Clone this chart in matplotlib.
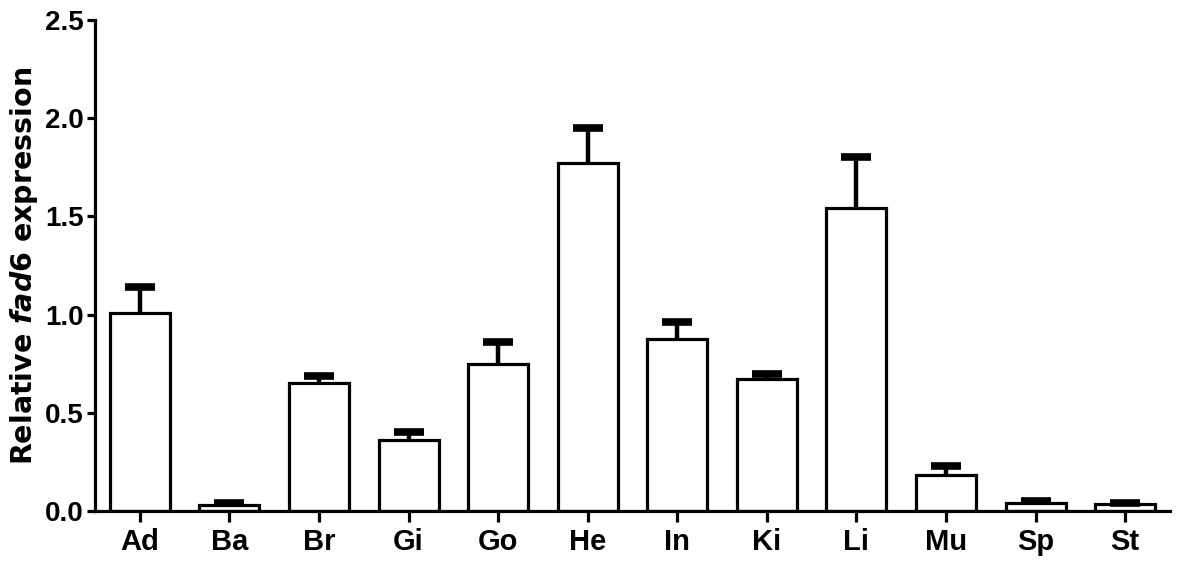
import numpy as np
import matplotlib
matplotlib.use('Agg')
import matplotlib.pyplot as plt

# tissues and relative fad6 expression (mean and upper SEM)
tissues = ['Ad', 'Ba', 'Br', 'Gi', 'Go', 'He', 'In', 'Ki', 'Li', 'Mu', 'Sp', 'St']
expression = [1.01, 0.03, 0.65, 0.36, 0.75, 1.77, 0.875, 0.67, 1.545, 0.185, 0.04, 0.035]
sem = [0.13, 0.01, 0.035, 0.04, 0.11, 0.18, 0.085, 0.03, 0.255, 0.045, 0.01, 0.008]

plt.rcParams['font.family'] = 'Liberation Sans'
plt.rcParams['font.weight'] = 'bold'
plt.rcParams['mathtext.fontset'] = 'custom'
plt.rcParams['mathtext.it'] = 'DejaVu Sans:italic:bold'

fig = plt.figure(figsize=[11.81, 5.69], dpi=100)
ax = fig.add_axes([0.0804, 0.1019, 0.9103, 0.863])

x = np.arange(len(tissues))
ax.bar(x, expression, width=0.67, color='white', edgecolor='black', linewidth=2.3, zorder=2)
eb = ax.errorbar(x, expression, yerr=[np.zeros(len(sem)), sem], fmt='none', ecolor='black',
                 elinewidth=3.2, capsize=11, capthick=5.5, zorder=3)
# only the upper half of the error bar is shown
eb[1][0].set_visible(False)
eb[1][1].set_solid_capstyle('round')

ax.set_xlim(-0.5, 11.5)
ax.set_ylim(0, 2.5)
ax.set_yticks([0.0, 0.5, 1.0, 1.5, 2.0, 2.5])
ax.set_yticklabels(['0.0', '0.5', '1.0', '1.5', '2.0', '2.5'])
ax.set_xticks(x)
ax.set_xticklabels(tissues, fontsize=21)

for side in ['top', 'right']:
    ax.spines[side].set_visible(False)
for side in ['left', 'bottom']:
    ax.spines[side].set_linewidth(2.3)

ax.tick_params(axis='y', length=6, width=2.3, labelsize=20, pad=2)
ax.tick_params(axis='x', length=8, width=2.3, pad=4)

ax.set_ylabel(r'Relative $\mathit{fad6}$ expression', family='DejaVu Sans',
              fontsize=20.5, fontweight='bold', labelpad=4)

plt.savefig('out.png', dpi=100)
